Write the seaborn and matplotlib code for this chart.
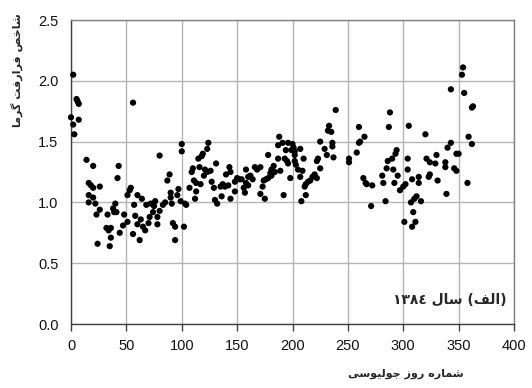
import numpy as np
import pandas as pd
import matplotlib
matplotlib.use("Agg")
import matplotlib.pyplot as plt
import seaborn as sns

# ---- data (Julian day, heat advection index) ----
days_a = [2, 5, 6, 7, 0, 2, 3, 7, 56, 14, 20, 43, 42, 16, 18, 20, 26, 16, 20, 16, 22, 26, 23, 24,
          33, 32, 34, 36, 36, 35, 38, 39, 40, 41, 44, 47, 48, 51, 54, 53, 51, 57, 56, 58, 60, 60,
          62, 63, 64, 65, 67, 68, 70, 71, 72]
vals_a = [2.05, 1.85, 1.83, 1.81, 1.70, 1.64, 1.56, 1.68, 1.82, 1.35, 1.30, 1.30, 1.20, 1.16, 1.14,
          1.12, 1.13, 1.06, 1.04, 1.00, 0.99, 0.94, 0.90, 0.66, 0.90, 0.79, 0.77, 0.79, 0.71, 0.64,
          0.95, 0.92, 0.99, 0.92, 0.75, 0.81, 0.90, 0.84, 1.12, 1.10, 1.06, 0.98, 0.74, 0.89, 1.06,
          0.82, 0.69, 0.86, 1.03, 0.80, 0.77, 0.98, 0.83, 0.88, 0.99]

days_b = [80, 100, 100, 124, 123, 119, 118, 115, 131, 143, 144, 116, 110, 109, 121, 123, 126, 120,
          111, 113, 117, 127, 129, 140, 135, 137, 139, 142, 148, 150, 152, 154, 148, 144, 136, 132,
          130, 107, 112, 113, 97, 96, 89, 87, 90, 90, 91, 99, 103, 104, 85, 83, 80, 76, 75, 74, 78,
          78, 92, 94, 102, 94]
vals_b = [1.385, 1.48, 1.42, 1.49, 1.44, 1.40, 1.38, 1.36, 1.32, 1.29, 1.25, 1.29, 1.28, 1.25, 1.27,
          1.25, 1.26, 1.22, 1.18, 1.16, 1.15, 1.17, 1.12, 1.23, 1.13, 1.15, 1.13, 1.14, 1.17, 1.20,
          1.19, 1.19, 1.09, 1.03, 1.05, 0.99, 1.02, 1.12, 1.03, 1.09, 1.11, 1.06, 1.23, 1.18, 1.08,
          1.04, 0.99, 1.01, 0.99, 0.98, 1.00, 0.98, 0.93, 1.01, 0.97, 0.92, 0.88, 0.82, 0.83, 0.80,
          0.80, 0.69]

days_c = [239, 233, 232, 235, 225, 236, 236, 229, 231, 237, 223, 222, 225, 188, 187, 191, 196, 200,
          201, 194, 199, 202, 207, 202, 210, 193, 195, 196, 202, 203, 187, 178, 183, 181, 184, 189,
          205, 209, 207, 220, 218, 222, 216, 214, 212, 211, 212, 208, 198, 192, 180, 181, 178, 176,
          174, 173, 171, 175, 171, 168, 166, 158, 162, 160, 164, 158, 160, 156, 157]
vals_c = [1.76, 1.63, 1.59, 1.58, 1.50, 1.49, 1.46, 1.44, 1.39, 1.37, 1.36, 1.34, 1.28, 1.54, 1.47,
          1.49, 1.49, 1.48, 1.45, 1.43, 1.43, 1.42, 1.44, 1.39, 1.36, 1.36, 1.34, 1.32, 1.34, 1.31,
          1.36, 1.39, 1.30, 1.27, 1.25, 1.26, 1.27, 1.26, 1.21, 1.23, 1.21, 1.20, 1.18, 1.17, 1.15,
          1.13, 1.06, 1.01, 1.20, 1.06, 1.24, 1.22, 1.20, 1.19, 1.18, 1.13, 1.07, 1.03, 1.29, 1.27,
          1.29, 1.27, 1.22, 1.21, 1.19, 1.16, 1.14, 1.12, 1.08]

days_d = [260, 265, 260, 261, 258, 251, 251, 288, 287, 305, 304, 294, 293, 290, 286, 285, 291, 304,
          281, 282, 295, 292, 264, 266, 267, 272, 271, 284, 308, 314, 314, 302, 300, 297, 312, 310,
          307, 316, 309, 301, 311, 308]
vals_d = [1.62, 1.54, 1.49, 1.50, 1.41, 1.36, 1.33, 1.74, 1.62, 1.63, 1.36, 1.43, 1.40, 1.36, 1.34,
          1.28, 1.27, 1.27, 1.22, 1.16, 1.22, 1.16, 1.20, 1.16, 1.15, 1.14, 0.97, 1.01, 1.19, 1.21,
          1.16, 1.15, 1.13, 1.10, 1.05, 1.03, 1.00, 1.01, 0.92, 0.84, 0.84, 0.80]

days_e = [354, 353, 343, 355, 363, 362, 320, 359, 362, 343, 340, 348, 350, 330, 321, 324, 329, 338,
          338, 346, 348, 324, 323, 331, 358, 339]
vals_e = [2.11, 2.05, 1.93, 1.90, 1.79, 1.78, 1.56, 1.54, 1.48, 1.49, 1.45, 1.40, 1.40, 1.39, 1.36,
          1.33, 1.32, 1.33, 1.29, 1.28, 1.26, 1.23, 1.21, 1.18, 1.16, 1.07]

x_ticks = [0, 50, 100, 150, 200, 250, 300, 350, 400]
y_ticks = [0.0, 0.5, 1.0, 1.5, 2.0, 2.5]

x_label = "شماره روز جولیوسی"
y_label = "شاخص فرارفت گرما"
panel_label = "(الف) سال ١٣٨٤"

# ---- minimal Arabic/Persian shaping (presentation forms, visual order) ----
FORMS = {  # iso, fin, ini, med
    "\u0627": ("\uFE8D", "\uFE8E", None, None),
    "\u062A": ("\uFE95", "\uFE96", "\uFE97", "\uFE98"),
    "\u062C": ("\uFE9D", "\uFE9E", "\uFE9F", "\uFEA0"),
    "\u062E": ("\uFEA5", "\uFEA6", "\uFEA7", "\uFEA8"),
    "\u0631": ("\uFEAD", "\uFEAE", None, None),
    "\u0632": ("\uFEAF", "\uFEB0", None, None),
    "\u0633": ("\uFEB1", "\uFEB2", "\uFEB3", "\uFEB4"),
    "\u0634": ("\uFEB5", "\uFEB6", "\uFEB7", "\uFEB8"),
    "\u0635": ("\uFEB9", "\uFEBA", "\uFEBB", "\uFEBC"),
    "\u0641": ("\uFED1", "\uFED2", "\uFED3", "\uFED4"),
    "\u0644": ("\uFEDD", "\uFEDE", "\uFEDF", "\uFEE0"),
    "\u0645": ("\uFEE1", "\uFEE2", "\uFEE3", "\uFEE4"),
    "\u0647": ("\uFEE9", "\uFEEA", "\uFEEB", "\uFEEC"),
    "\u0648": ("\uFEED", "\uFEEE", None, None),
    "\u06CC": ("\uFBFC", "\uFBFD", "\uFBFE", "\uFBFF"),
    "\u06AF": ("\uFB92", "\uFB93", "\uFB94", "\uFB95"),
}


def shape_rtl(text):
    out = []
    n = len(text)
    for i, ch in enumerate(text):
        if ch not in FORMS:
            out.append(ch)
            continue
        f = FORMS[ch]
        prev = text[i - 1] if i > 0 else None
        nxt = text[i + 1] if i < n - 1 else None
        jp = prev in FORMS and FORMS[prev][2] is not None
        jn = f[2] is not None and nxt in FORMS
        if jp and jn:
            out.append(f[3])
        elif jp:
            out.append(f[1])
        elif jn:
            out.append(f[2])
        else:
            out.append(f[0])
    # visual order: reverse, keep digit runs LTR, mirror brackets
    rev = out[::-1]
    res, run = [], []
    for ch in rev:
        if ch.isdigit():
            run.append(ch)
        else:
            if run:
                res.extend(run[::-1]); run = []
            res.append({"(": ")", ")": "("}.get(ch, ch))
    if run:
        res.extend(run[::-1])
    return "".join(res)


df = pd.DataFrame({
    "day": days_a + days_b + days_c + days_d + days_e,
    "value": vals_a + vals_b + vals_c + vals_d + vals_e,
})

sns.set_theme(style="whitegrid")
plt.rcParams["font.family"] = ["Liberation Sans", "DejaVu Sans"]

fig = plt.figure(figsize=(5.32, 3.88), dpi=100)
ax = fig.add_axes([71 / 532, 1 - 324 / 388, (514 - 71) / 532, (324 - 20) / 388])

sns.scatterplot(data=df, x="day", y="value", ax=ax, color="black", s=20,
                edgecolor="none", linewidth=0, zorder=3, clip_on=False)

ax.set_xlim(0, 400)
ax.set_ylim(0, 2.5)
ax.set_xticks(x_ticks)
ax.set_xticklabels([str(t) for t in x_ticks])
ax.set_yticks(y_ticks)
ax.set_yticklabels([f"{t:.1f}" for t in y_ticks])
ax.set_xlabel("")
ax.set_ylabel("")

ax.grid(True, color="#b4b4b4", linewidth=1.0)
ax.set_facecolor("white")
for side in ["left", "bottom"]:
    ax.spines[side].set_color("#404040")
    ax.spines[side].set_linewidth(1.0)
for side in ["top", "right"]:
    ax.spines[side].set_color("#808080")
    ax.spines[side].set_linewidth(1.0)

ax.tick_params(axis="x", which="major", direction="out", length=5, width=1,
               color="#404040", bottom=True, labelsize=10.5, pad=6, labelcolor="#111111")
ax.tick_params(axis="y", which="major", length=0, labelsize=10.5, pad=9, labelcolor="#111111")

arab_font = ["DejaVu Sans"]
fig.text(17 / 532, 1 - 70 / 388, shape_rtl(y_label), rotation=90, ha="center", va="center",
         fontsize=8, fontweight="bold", family=arab_font)
fig.text(406 / 532, 1 - 374 / 388, shape_rtl(x_label), ha="center", va="center",
         fontsize=8, fontweight="bold", family=arab_font)
ax.text((507 - 71) / (514 - 71), (324 - 300) / 304, shape_rtl(panel_label), transform=ax.transAxes,
        ha="right", va="center", fontsize=10, fontweight="bold", family=arab_font)

fig.savefig("out.png", dpi=100)
